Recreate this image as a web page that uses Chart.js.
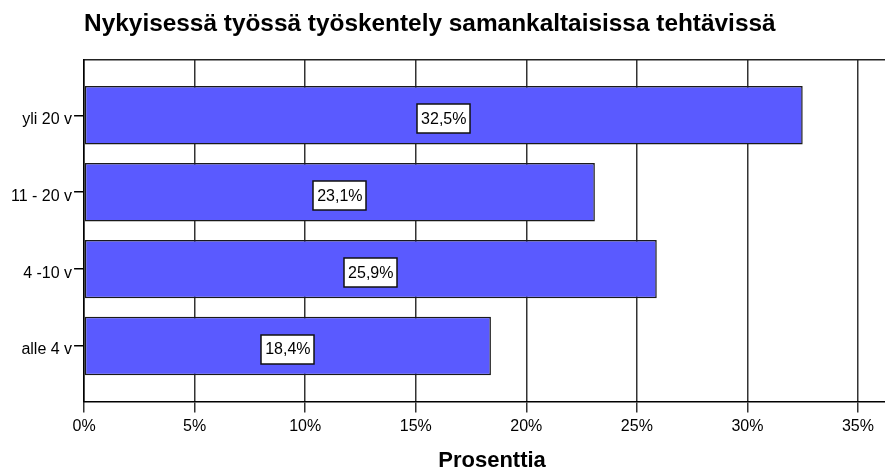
<!DOCTYPE html>
<html>
<head>
<meta charset="utf-8">
<script src="https://cdn.jsdelivr.net/npm/chart.js@4"></script>
<style>
html,body{margin:0;padding:0;background:#fff;overflow:hidden;width:885px;height:474px;}
canvas{display:block;}
</style>
</head>
<body>
<canvas id="c" width="900" height="474"></canvas>
<script>
const titleText = 'Nykyisessä työssä työskentely samankaltaisissa tehtävissä';
const axisTitle = 'Prosenttia';
const categories = ['yli 20 v', '11 - 20 v', '4 -10 v', 'alle 4 v'];
const values = [32.5, 23.1, 25.9, 18.4];
const xTicks = [0, 5, 10, 15, 20, 25, 30, 35];

const FONT = "'Liberation Sans', Arial, sans-serif";

const barLabels = {
  id: 'barLabels',
  afterDatasetsDraw(chart) {
    const ctx = chart.ctx;
    const meta = chart.getDatasetMeta(0);
    ctx.save();
    ctx.font = '16px ' + FONT;
    ctx.textAlign = 'center';
    ctx.textBaseline = 'middle';
    meta.data.forEach((bar, i) => {
      const p = bar.getProps(['x', 'y', 'base'], true);
      const txt = values[i].toFixed(1).replace('.', ',') + '%';
      const w = ctx.measureText(txt).width + 8;
      const h = 29;
      const cx = (p.x + p.base) / 2;
      const cy = p.y + 3;
      ctx.fillStyle = '#fff';
      ctx.fillRect(Math.round(cx - w / 2), Math.round(cy - h / 2), Math.round(w), h);
      ctx.strokeStyle = '#111';
      ctx.lineWidth = 1.5;
      ctx.strokeRect(Math.round(cx - w / 2), Math.round(cy - h / 2), Math.round(w), h);
      ctx.fillStyle = '#000';
      ctx.fillText(txt, cx, cy + 1);
    });
    ctx.restore();
  }
};

new Chart(document.getElementById('c'), {
  type: 'bar',
  data: {
    datasets: [{
      data: values.map((v, i) => ({ x: v, y: i })),
      backgroundColor: '#5a5aff',
      borderColor: '#1a1a1a',
      borderWidth: 1.5,
      borderSkipped: false,
      categoryPercentage: 1,
      barPercentage: 0.76
    }]
  },
  options: {
    indexAxis: 'y',
    responsive: false,
    animation: false,
    layout: { padding: { left: 9, right: 0, top: 0, bottom: 0 } },
    plugins: {
      legend: { display: false },
      tooltip: { enabled: false },
      title: {
        display: true,
        text: titleText,
        align: 'start',
        fullSize: false,
        color: '#000',
        font: { family: FONT, size: 24.4, weight: 'bold', lineHeight: 1.2 },
        padding: { top: 10, bottom: 20.7 }
      }
    },
    scales: {
      x: {
        type: 'linear',
        position: 'bottom',
        min: 0,
        max: 36.9,
        afterBuildTicks: (s) => { s.ticks = xTicks.map(v => ({ value: v })); },
        ticks: {
          color: '#000',
          font: { family: FONT, size: 16 },
          padding: 5,
          maxRotation: 0,
          callback: (v) => v + '%'
        },
        grid: {
          display: true,
          drawOnChartArea: true,
          drawTicks: true,
          tickLength: 11,
          color: '#333',
          lineWidth: 1.5
        },
        border: { display: true, color: '#000', width: 1.5 },
        title: {
          display: true,
          text: axisTitle,
          color: '#000',
          font: { family: FONT, size: 22, weight: 'bold', lineHeight: 1.2 },
          padding: { top: 6, bottom: 0 }
        }
      },
      x2: {
        type: 'linear',
        position: 'top',
        display: true,
        min: 0,
        max: 36.9,
        ticks: { display: false },
        grid: { display: false, drawTicks: false },
        border: { display: true, color: '#222', width: 1.5 }
      },
      y: {
        type: 'linear',
        reverse: true,
        offset: false,
        min: -0.72,
        max: 3.72,
        afterBuildTicks: (s) => { s.ticks = categories.map((c, i) => ({ value: i })); },
        ticks: {
          color: '#000',
          font: { family: FONT, size: 16 },
          padding: 2,
          labelOffset: 4,
          callback: (v) => categories[v]
        },
        grid: {
          display: true,
          offset: false,
          drawOnChartArea: false,
          drawTicks: true,
          tickLength: 10,
          color: '#000',
          lineWidth: 1.5
        },
        border: { display: true, color: '#000', width: 1.5 }
      }
    }
  },
  plugins: [barLabels]
});
</script>
</body>
</html>
